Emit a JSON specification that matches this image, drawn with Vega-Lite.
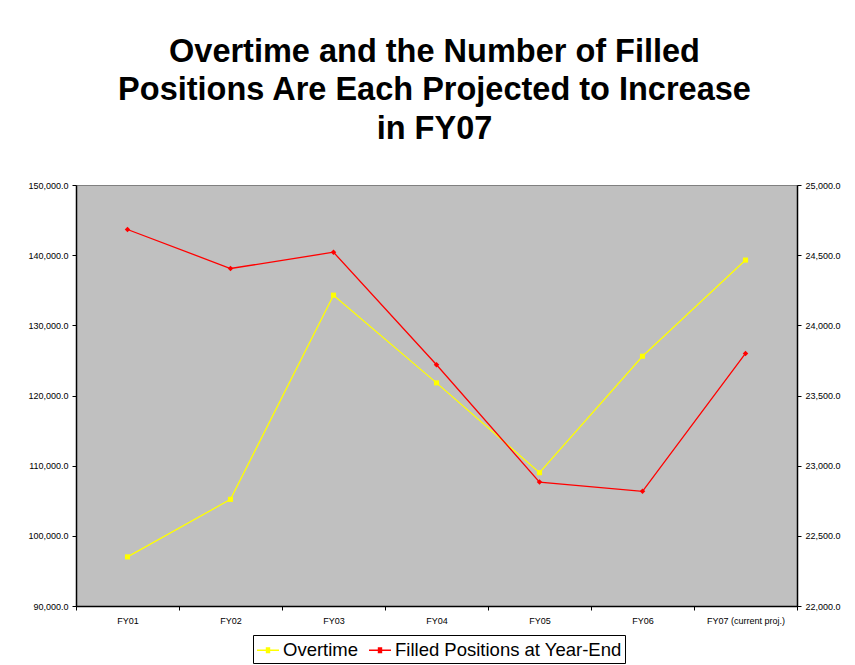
{
  "$schema": "https://vega.github.io/schema/vega-lite/v6.json",
  "autosize": {"type": "none"},
  "width": 721,
  "height": 421,
  "padding": {"left": 76, "top": 185, "right": 58, "bottom": 59},
  "background": "white",
  "title": {
    "text": ["Overtime and the Number of Filled", "Positions Are Each Projected to Increase", "in FY07"],
    "font": "Liberation Sans",
    "fontSize": 32.5,
    "fontWeight": "bold",
    "color": "black",
    "lineHeight": 38.5,
    "anchor": "middle",
    "dx": -2,
    "offset": 36
  },
  "config": {
    "view": {"fill": "#C0C0C0", "stroke": "#808080", "strokeWidth": 1},
    "axis": {
      "labelFont": "Liberation Sans",
      "labelFontSize": 9,
      "labelColor": "black",
      "domainColor": "black",
      "domainWidth": 1.5,
      "tickColor": "black",
      "tickSize": 4,
      "grid": false,
      "title": null
    }
  },
  "data": {
    "values": [
      {"year": "FY01", "series": "Overtime", "value": 97000},
      {"year": "FY02", "series": "Overtime", "value": 105200},
      {"year": "FY03", "series": "Overtime", "value": 134300},
      {"year": "FY04", "series": "Overtime", "value": 121800},
      {"year": "FY05", "series": "Overtime", "value": 109000},
      {"year": "FY06", "series": "Overtime", "value": 125600},
      {"year": "FY07 (current proj.)", "series": "Overtime", "value": 139300},
      {"year": "FY01", "series": "Filled Positions at Year-End", "value": 24683},
      {"year": "FY02", "series": "Filled Positions at Year-End", "value": 24405},
      {"year": "FY03", "series": "Filled Positions at Year-End", "value": 24521},
      {"year": "FY04", "series": "Filled Positions at Year-End", "value": 23719},
      {"year": "FY05", "series": "Filled Positions at Year-End", "value": 22883},
      {"year": "FY06", "series": "Filled Positions at Year-End", "value": 22817},
      {"year": "FY07 (current proj.)", "series": "Filled Positions at Year-End", "value": 23800}
    ]
  },
  "encoding": {
    "x": {
      "field": "year",
      "type": "nominal",
      "sort": null,
      "scale": {"paddingInner": 0, "paddingOuter": 0},
      "axis": {"labelAngle": 0, "tickBand": "extent", "labelPadding": 6}
    },
    "color": {
      "field": "series",
      "type": "nominal",
      "scale": {"domain": ["Overtime", "Filled Positions at Year-End"], "range": ["#FFFF00", "#FF0000"]},
      "legend": {
        "title": null,
        "orient": "none",
        "direction": "horizontal",
        "legendX": 177,
        "legendY": 450,
        "fillColor": "white",
        "strokeColor": "black",
        "padding": 3,
        "labelFont": "Liberation Sans",
        "labelFontSize": 18.5,
        "labelColor": "black",
        "labelLimit": 400,
        "labelOffset": 3,
        "columnPadding": 7,
        "symbolType": "M-1,0H1M-0.2,-0.2H0.2M-0.2,-0.1H0.2M-0.2,0.1H0.2M-0.2,0.2H0.2",
        "symbolSize": 484,
        "symbolStrokeWidth": 1.5
      }
    }
  },
  "layer": [
    {
      "transform": [{"filter": "datum.series === 'Overtime'"}],
      "mark": {"type": "line", "strokeWidth": 1.3, "point": {"shape": "square", "size": 26, "filled": true, "color": "#FFFF00"}},
      "encoding": {
        "y": {
          "field": "value",
          "type": "quantitative",
          "scale": {"domain": [90000, 150000], "nice": false, "zero": false},
          "axis": {"values": [90000, 100000, 110000, 120000, 130000, 140000, 150000], "format": ",.1f", "labelPadding": 4}
        }
      }
    },
    {
      "transform": [{"filter": "datum.series !== 'Overtime'"}],
      "mark": {"type": "line", "strokeWidth": 1.3, "point": {"shape": "diamond", "size": 30, "filled": true, "color": "#FF0000"}},
      "encoding": {
        "y": {
          "field": "value",
          "type": "quantitative",
          "scale": {"domain": [22000, 25000], "nice": false, "zero": false},
          "axis": {"orient": "right", "values": [22000, 22500, 23000, 23500, 24000, 24500, 25000], "format": ",.1f", "labelPadding": 4}
        }
      }
    }
  ],
  "resolve": {"scale": {"y": "independent"}}
}
